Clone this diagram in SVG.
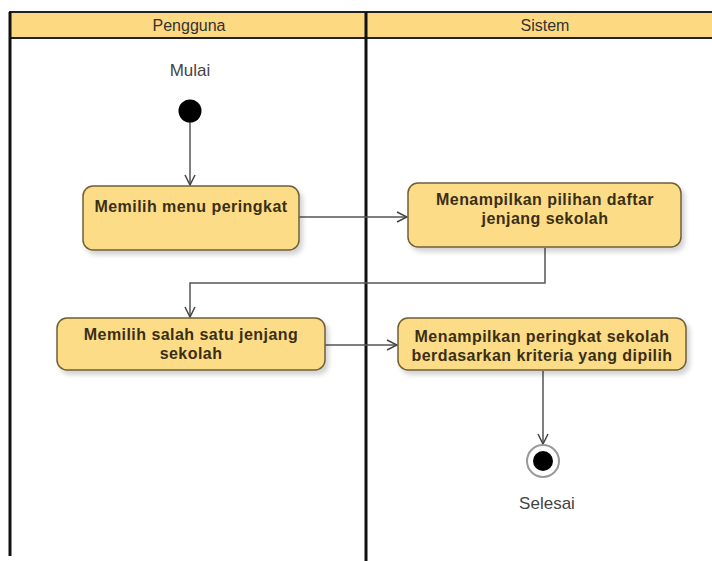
<svg xmlns="http://www.w3.org/2000/svg" width="712" height="561" viewBox="0 0 712 561">
  <defs>
    <style>
      .lane-head { fill: #fdd982; stroke: #222; stroke-width: 2; }
      .lane-line { stroke: #111; stroke-width: 3; fill: none; }
      .head-text { font-family: "Liberation Sans", Arial, sans-serif; font-size: 16px; fill: #333; text-anchor: middle; }
      .act { fill: #fddc87; stroke: #6f5f36; stroke-width: 1.5; filter: url(#shadow); }
      .act-text { font-family: "Liberation Sans", Arial, sans-serif; font-size: 16px; letter-spacing: 0.45px; font-weight: bold; fill: #3a2f14; text-anchor: middle; }
      .label { font-family: "Liberation Sans", Arial, sans-serif; font-size: 17px; fill: #444; text-anchor: middle; }
      .flow { stroke: #555; stroke-width: 1.5; fill: none; marker-end: url(#open-arrow); }
    </style>
    <marker id="open-arrow" viewBox="0 0 12 12" refX="11" refY="6" markerWidth="12" markerHeight="12" markerUnits="userSpaceOnUse" orient="auto">
      <path d="M1,1 L11,6 L1,11" fill="none" stroke="#444" stroke-width="1.5"/>
    </marker>
    <filter id="shadow" x="-10%" y="-10%" width="130%" height="140%">
      <feDropShadow dx="3" dy="4" stdDeviation="2.5" flood-color="#000" flood-opacity="0.18"/>
    </filter>
  </defs>

  <rect width="712" height="561" fill="#ffffff"/>

  <!-- swimlanes -->
  <g id="lanes">
    <rect class="lane-head" x="10" y="12" width="720" height="26"/>
    <line class="lane-line" x1="10" y1="12" x2="10" y2="556"/>
    <line class="lane-line" x1="366" y1="12" x2="366" y2="561"/>
    <text class="head-text" x="189" y="31">Pengguna</text>
    <text class="head-text" x="545" y="31">Sistem</text>
  </g>

  <!-- connectors -->
  <g id="connectors">
    <line class="flow" x1="190" y1="122" x2="190" y2="185"/>
    <line class="flow" x1="299" y1="217" x2="407" y2="217"/>
    <polyline class="flow" points="545,248 545,283 190,283 190,317"/>
    <line class="flow" x1="325" y1="345" x2="397" y2="345"/>
    <line class="flow" x1="543" y1="371" x2="543" y2="444"/>
  </g>

  <g id="start">
    <text class="label" x="190" y="76">Mulai</text>
    <circle cx="190" cy="111" r="11.5" fill="#000"/>
  </g>

  <g id="memilih-menu">
    <rect class="act" x="83" y="186" width="216" height="64" rx="10"/>
    <text class="act-text" x="191" y="212">Memilih menu peringkat</text>
  </g>

  <g id="tampil-jenjang">
    <rect class="act" x="408" y="183" width="273" height="64" rx="10"/>
    <text class="act-text" x="545" y="205">Menampilkan pilihan daftar</text>
    <text class="act-text" x="545" y="224">jenjang sekolah</text>
  </g>

  <g id="pilih-jenjang">
    <rect class="act" x="57" y="318" width="268" height="52" rx="10"/>
    <text class="act-text" x="191" y="340">Memilih salah satu jenjang</text>
    <text class="act-text" x="191" y="359">sekolah</text>
  </g>

  <g id="tampil-peringkat">
    <rect class="act" x="398" y="318" width="288" height="52" rx="10"/>
    <text class="act-text" x="542" y="342">Menampilkan peringkat sekolah</text>
    <text class="act-text" x="542" y="361">berdasarkan kriteria yang dipilih</text>
  </g>

  <g id="end">
    <circle cx="543" cy="461" r="16" fill="#fff" stroke="#999" stroke-width="2"/>
    <circle cx="543" cy="461" r="10" fill="#000"/>
    <text class="label" x="547" y="509">Selesai</text>
  </g>
</svg>
